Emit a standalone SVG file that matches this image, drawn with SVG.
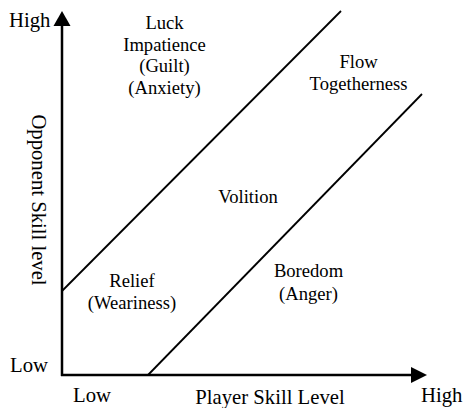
<svg xmlns="http://www.w3.org/2000/svg" width="464" height="408" viewBox="0 0 464 408">
<style>
text{font-family:"Liberation Serif","Times New Roman",serif;fill:#000}
.ax{font-size:20.7px}
.rg{font-size:18.6px;text-anchor:middle}
.axis{stroke:#000;stroke-width:2.5;fill:none}
.div{stroke:#000;stroke-width:1.8;fill:none}
.head{fill:#000}
</style>
<rect width="464" height="408" fill="#fff"/>
<g id="connectors">
<line class="axis" x1="62" y1="376" x2="62" y2="24"/>
<line class="axis" x1="61" y1="375" x2="413" y2="375"/>
<polygon class="head" points="62,11 53.5,26 70.5,26"/>
<polygon class="head" points="427,375 411,367 411,383"/>
<line class="div" x1="62" y1="291" x2="341" y2="11"/>
<line class="div" x1="148" y1="375" x2="422" y2="94"/>
</g>
<g id="axis-labels">
<text class="ax" x="9" y="27">High</text>
<text class="ax" x="10" y="372">Low</text>
<text class="ax" x="73" y="402">Low</text>
<text class="ax" x="421" y="402">High</text>
<text class="ax" x="270" y="404" text-anchor="middle">Player Skill Level</text>
<text class="ax" transform="translate(32,200) rotate(90)" text-anchor="middle">Opponent Skill level</text>
</g>
<g id="luck">
<text class="rg" x="164.5" y="29">Luck</text>
<text class="rg" x="164.5" y="50.5">Impatience</text>
<text class="rg" x="164.5" y="72">(Guilt)</text>
<text class="rg" x="164.5" y="93.5">(Anxiety)</text>
</g>
<g id="flow">
<text class="rg" x="358.5" y="67.7">Flow</text>
<text class="rg" x="358.5" y="90">Togetherness</text>
</g>
<g id="volition">
<text class="rg" x="248" y="203">Volition</text>
</g>
<g id="relief">
<text class="rg" x="132" y="287">Relief</text>
<text class="rg" x="132" y="309">(Weariness)</text>
</g>
<g id="boredom">
<text class="rg" x="308.5" y="277" text-anchor="start">Boredom</text>
<text class="rg" x="308.5" y="299.5" text-anchor="start">(Anger)</text>
</g>
</svg>
